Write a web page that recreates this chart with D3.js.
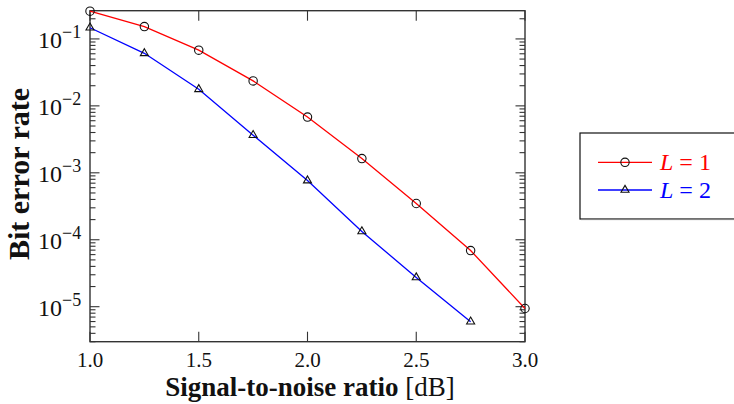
<!DOCTYPE html>
<html><head><meta charset="utf-8">
<script src="https://cdn.jsdelivr.net/npm/d3@7"></script>
<style>body{margin:0;background:#fff}svg{display:block}</style>
</head><body>
<svg id="c" width="734" height="404"></svg>
<script>
// Bit error rate vs. SNR for two diversity orders
const snrL1 = [1.0, 1.25, 1.5, 1.75, 2.0, 2.25, 2.5, 2.75, 3.0];
const berL1 = [0.26, 0.153, 0.068, 0.0236, 0.0068, 0.00163, 3.48e-4, 6.9e-5, 9.4e-6];
const snrL2 = [1.0, 1.25, 1.5, 1.75, 2.0, 2.25, 2.5, 2.75];
const berL2 = [0.147, 0.061, 0.0177, 0.00365, 7.65e-4, 1.33e-4, 2.73e-5, 5.97e-6];
const xTicks = [1.0, 1.5, 2.0, 2.5, 3.0];
const yExponents = [-1, -2, -3, -4, -5];
const seriesLabels = ["1", "2"];
const seriesColors = ["#ff0000", "#0000ff"];

const serif = "'Liberation Serif','DejaVu Serif',serif";
const svg = d3.select("#c");
const m = {l: 90, r: 525, t: 10.7, b: 341.7};

const x = d3.scaleLinear().domain([1.0, 3.0]).range([m.l, m.r]);
const y = d3.scaleLog().domain([3e-6, 0.264]).range([m.b, m.t]);

// minor ticks 2..9 per decade inside the domain
const minor = [];
for (let e = -6; e <= 0; e++) for (let k = 2; k <= 9; k++) {
  const v = k * Math.pow(10, e);
  if (v >= 3e-6 && v <= 0.264) minor.push(v);
}
const major = yExponents.map(e => Math.pow(10, e));

const g = svg.append("g");

// tick marks (inward on all four sides)
const tick = (x1, y1, x2, y2, w) => g.append("line")
  .attr("x1", x1).attr("y1", y1).attr("x2", x2).attr("y2", y2)
  .attr("stroke", "#333").attr("stroke-width", w || 1.1);
minor.forEach(v => { tick(m.l, y(v), m.l + 5.5, y(v)); tick(m.r, y(v), m.r - 5.5, y(v)); });
major.forEach(v => { tick(m.l, y(v), m.l + 9.5, y(v)); tick(m.r, y(v), m.r - 9.5, y(v)); });
xTicks.forEach(v => { tick(x(v), m.b, x(v), m.b - 10); tick(x(v), m.t, x(v), m.t + 10); });

// frame
g.append("rect").attr("x", m.l).attr("y", m.t).attr("width", m.r - m.l).attr("height", m.b - m.t)
  .attr("fill", "none").attr("stroke", "#333").attr("stroke-width", 1.4);

// x tick labels
g.selectAll(".xl").data(xTicks).join("text")
  .attr("x", d => x(d)).attr("y", 367).attr("text-anchor", "middle")
  .attr("font-family", serif).attr("font-size", 21).attr("fill", "#111")
  .text(d => d.toFixed(1));

// y tick labels 10^e
yExponents.forEach(e => {
  const t = g.append("text").attr("x", 38).attr("y", y(Math.pow(10, e)) + 9)
    .attr("font-family", serif).attr("font-size", 24).attr("fill", "#111");
  t.append("tspan").text("10");
  t.append("tspan").attr("dy", -10).attr("font-size", 18).text("\u2212" + (-e));
});

// axis titles
const xt = g.append("text").attr("x", 310).attr("y", 396).attr("text-anchor", "middle")
  .attr("font-family", serif).attr("font-size", 27).attr("fill", "#111");
xt.append("tspan").attr("font-weight", "bold").text("Signal-to-noise ratio ");
xt.append("tspan").text("[dB]");
g.append("text").attr("transform", "translate(29,174) rotate(-90)").attr("text-anchor", "middle")
  .attr("font-family", serif).attr("font-size", 30).attr("font-weight", "bold").attr("fill", "#111")
  .text("Bit error rate");

const line = d3.line().x(d => x(d[0])).y(d => y(d[1]));
const tri = d3.symbol().type(d3.symbolTriangle).size(28);

const series = [
  {xs: snrL1, ys: berL1, marker: "circle"},
  {xs: snrL2, ys: berL2, marker: "triangle"}
];
series.forEach((s, i) => {
  const pts = s.xs.map((v, j) => [v, s.ys[j]]);
  g.append("path").datum(pts).attr("d", line).attr("fill", "none")
    .attr("stroke", seriesColors[i]).attr("stroke-width", 1.3);
  if (s.marker === "circle") {
    g.selectAll(null).data(pts).join("circle")
      .attr("cx", d => x(d[0])).attr("cy", d => y(d[1])).attr("r", 4.2)
      .attr("fill", "none").attr("stroke", "#111").attr("stroke-width", 1.1);
  } else {
    g.selectAll(null).data(pts).join("path")
      .attr("transform", d => `translate(${x(d[0])},${y(d[1])})`).attr("d", tri)
      .attr("fill", "none").attr("stroke", "#111").attr("stroke-width", 1.1);
  }
});

// legend
const lg = svg.append("g");
lg.append("rect").attr("x", 580).attr("y", 133).attr("width", 160).attr("height", 86)
  .attr("fill", "#fff").attr("stroke", "#111").attr("stroke-width", 1.2);
lg.append("line").attr("x1", 581).attr("y1", 219.6).attr("x2", 740).attr("y2", 219.6)
  .attr("stroke", "#888").attr("stroke-width", 1);
[162.3, 190].forEach((yy, i) => {
  lg.append("line").attr("x1", 598).attr("x2", 652).attr("y1", yy).attr("y2", yy)
    .attr("stroke", seriesColors[i]).attr("stroke-width", 1.3);
  if (i === 0) lg.append("circle").attr("cx", 625).attr("cy", yy).attr("r", 4.2)
    .attr("fill", "none").attr("stroke", "#111").attr("stroke-width", 1.1);
  else lg.append("path").attr("transform", `translate(625,${yy})`).attr("d", tri)
    .attr("fill", "none").attr("stroke", "#111").attr("stroke-width", 1.1);
  const t = lg.append("text").attr("x", 660).attr("y", yy + 8)
    .attr("font-family", serif).attr("font-size", 24).attr("fill", seriesColors[i]);
  t.append("tspan").attr("font-style", "italic").text("L");
  t.append("tspan").attr("dx", 6).text("=");
  t.append("tspan").attr("dx", 6).text(seriesLabels[i]);
});
</script>
</body></html>
